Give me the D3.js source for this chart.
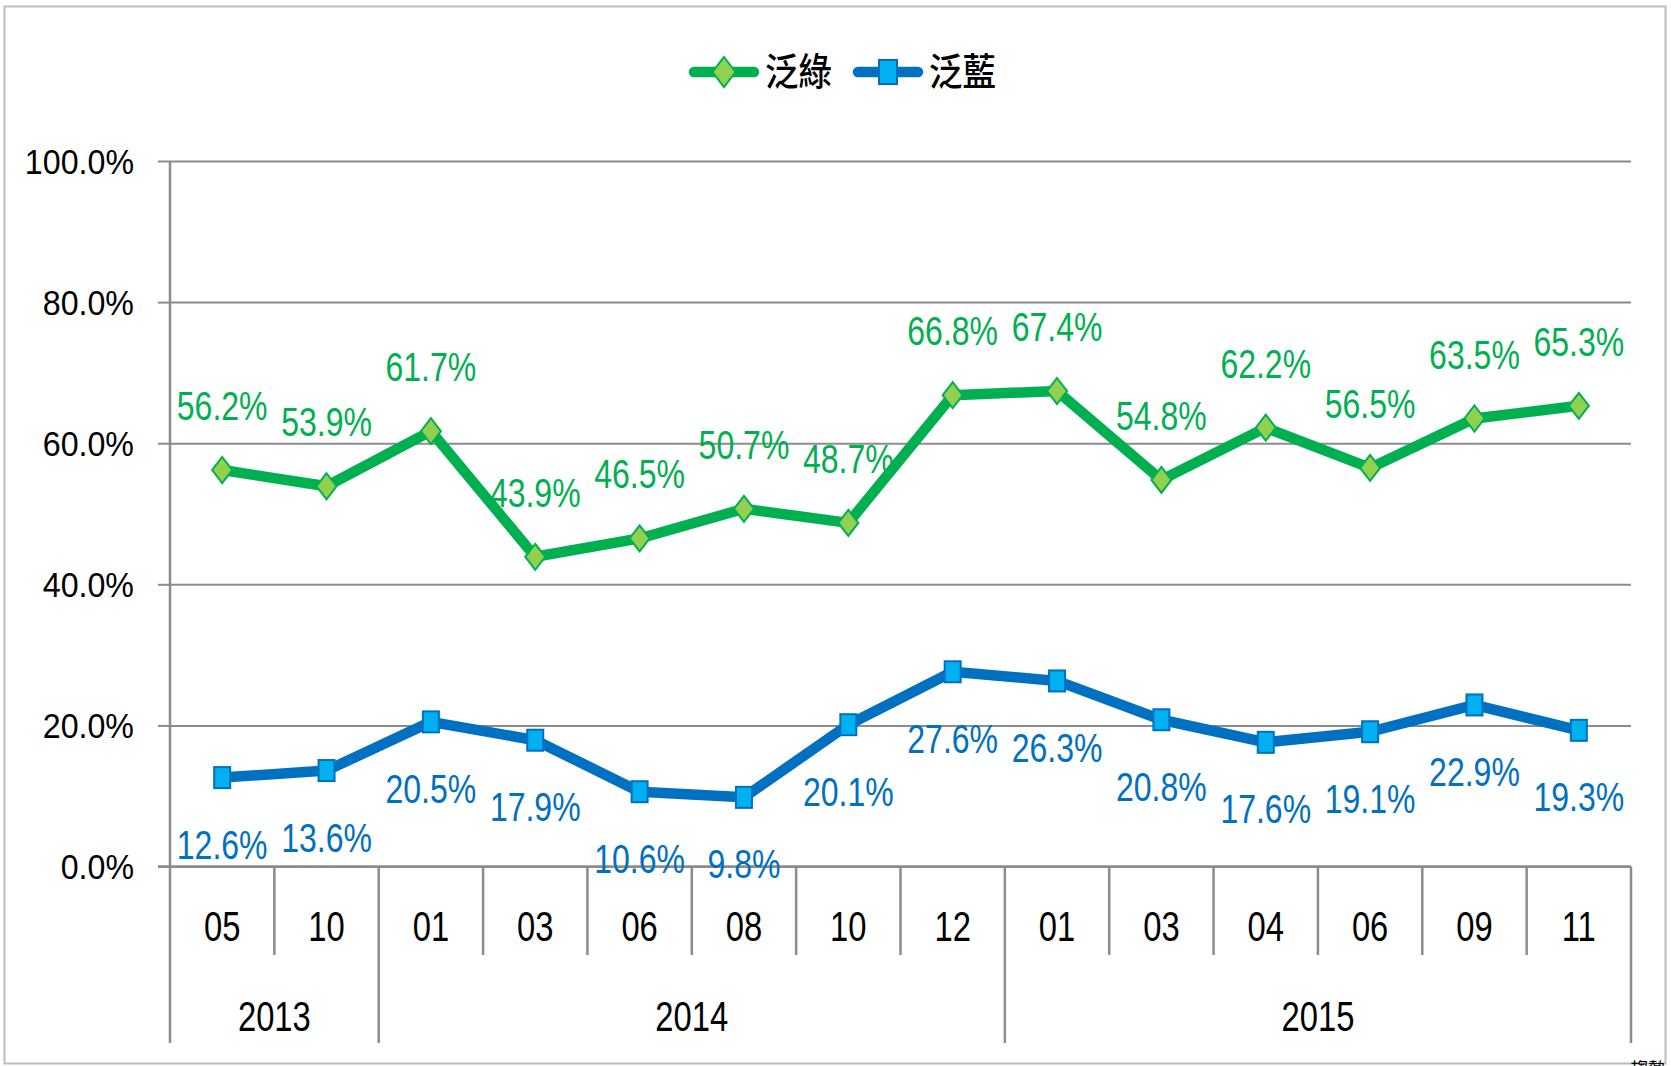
<!DOCTYPE html>
<html>
<head>
<meta charset="utf-8">
<script src="https://cdn.jsdelivr.net/npm/d3@7"></script>
<style>
  body { margin: 0; background: #fff; }
  svg { display: block; font-family: "Liberation Sans", Arial, sans-serif; }
</style>
</head>
<body>
<div id="chart"></div>
<script>
// data
var months = ["05", "10", "01", "03", "06", "08", "10", "12", "01", "03", "04", "06", "09", "11"];
var years = [
  {label: "2013", start: 0, end: 2},
  {label: "2014", start: 2, end: 8},
  {label: "2015", start: 8, end: 14}
];
var green = [56.2, 53.9, 61.7, 43.9, 46.5, 50.7, 48.7, 66.8, 67.4, 54.8, 62.2, 56.5, 63.5, 65.3];
var blue = [12.6, 13.6, 20.5, 17.9, 10.6, 9.8, 20.1, 27.6, 26.3, 20.8, 17.6, 19.1, 22.9, 19.3];
var yTicks = [0, 0.2, 0.4, 0.6, 0.8, 1.0];
var seriesNames = ["泛綠", "泛藍"];

var W = 1671, H = 1066,
    pLeft = 170, pRight = 1631, pTop = 161, pBottom = 866.5;

var svg = d3.select("#chart").append("svg")
    .attr("width", W)
    .attr("height", H);

// outer frame
svg.append("rect")
    .attr("x", 4.5).attr("y", 6.5)
    .attr("width", 1661).attr("height", 1057)
    .attr("fill", "#fff")
    .attr("stroke", "#bdbdbd")
    .attr("stroke-width", 2);

var x = d3.scaleBand()
    .domain(d3.range(months.length))
    .range([pLeft, pRight])
    .padding(0);
var bw = x.bandwidth();
var cx = function(i) { return x(i) + bw / 2; };

var y = d3.scaleLinear()
    .domain([0, 1])
    .range([pBottom, pTop]);

var grey = "#8c8c8c";

// gridlines
svg.append("g")
    .attr("transform", "translate(" + pLeft + ",0)")
    .call(d3.axisLeft(y).tickValues(yTicks).tickSize(-(pRight - pLeft)).tickFormat(""))
    .call(function(g) {
      g.select(".domain").remove();
      g.selectAll("line").attr("stroke", grey).attr("stroke-width", 2);
    });

// y axis with outside ticks
var yAxis = svg.append("g")
    .attr("transform", "translate(" + pLeft + ",0)")
    .call(d3.axisLeft(y).tickValues(yTicks).tickSize(12).tickFormat(d3.format(".1%")));
yAxis.select(".domain").remove();
yAxis.selectAll("line").attr("stroke", grey).attr("stroke-width", 2);
yAxis.selectAll("text")
    .attr("x", null)
    .attr("dy", null)
    .attr("transform", "translate(-36,12) scale(0.92,1)")
    .attr("fill", "#000")
    .style("font-size", "35px")
    .style("font-family", "'Liberation Sans', Arial, sans-serif");

// left axis line runs down through the category area
svg.append("line")
    .attr("x1", pLeft).attr("x2", pLeft)
    .attr("y1", pTop).attr("y2", 1043)
    .attr("stroke", grey).attr("stroke-width", 2.5);

// x axis line
svg.append("line")
    .attr("x1", 158).attr("x2", pRight)
    .attr("y1", pBottom).attr("y2", pBottom)
    .attr("stroke", grey).attr("stroke-width", 2.5);

// category separators
var yearEdges = years.map(function(d) { return d.end; });
svg.append("g").selectAll("line")
    .data(d3.range(1, months.length + 1))
    .join("line")
    .attr("x1", function(i) { return i < months.length ? x(i) : pRight; })
    .attr("x2", function(i) { return i < months.length ? x(i) : pRight; })
    .attr("y1", pBottom)
    .attr("y2", function(i) { return yearEdges.indexOf(i) >= 0 ? 1043 : 955; })
    .attr("stroke", grey).attr("stroke-width", 2.5);

// month labels
svg.append("g").selectAll("text")
    .data(months)
    .join("text")
    .attr("transform", function(d, i) { return "translate(" + cx(i) + ",940.5) scale(0.78,1)"; })
    .attr("text-anchor", "middle")
    .style("font-size", "42px")
    .text(function(d) { return d; });

// year labels
svg.append("g").selectAll("text")
    .data(years)
    .join("text")
    .attr("transform", function(d) {
      return "translate(" + ((x(d.start) + (d.end < months.length ? x(d.end) : pRight)) / 2) + ",1030.5) scale(0.78,1)";
    })
    .attr("text-anchor", "middle")
    .style("font-size", "42px")
    .text(function(d) { return d.label; });

var line = d3.line()
    .x(function(d, i) { return cx(i); })
    .y(function(d) { return y(d / 100); });

var gColor = "#00b050", gFill = "#92d050",
    bColor = "#0070c0", bFill = "#00b0f0";

var diamond = "M0,-13L10,0L0,13L-10,0Z";
var bigDiamond = "M0,-15L11.5,0L0,15L-11.5,0Z";

function drawSeries(vals, color, fill, shape, labelDy) {
  var g = svg.append("g");
  g.append("path")
      .datum(vals)
      .attr("d", line)
      .attr("fill", "none")
      .attr("stroke", color)
      .attr("stroke-width", 10.5)
      .attr("stroke-linejoin", "round");
  var m = g.selectAll(".m")
      .data(vals)
      .join("g")
      .attr("transform", function(d, i) { return "translate(" + cx(i) + "," + y(d / 100) + ")"; });
  if (shape == "diamond") {
    m.append("path").attr("d", diamond)
        .attr("fill", fill).attr("stroke", color).attr("stroke-width", 2);
  } else {
    m.append("rect").attr("x", -8).attr("y", -10.5).attr("width", 16).attr("height", 21)
        .attr("fill", fill).attr("stroke", color).attr("stroke-width", 2);
  }
  g.selectAll(".lab")
      .data(vals)
      .join("text")
      .attr("transform", function(d, i) {
        return "translate(" + cx(i) + "," + (y(d / 100) + labelDy) + ") scale(0.8,1)";
      })
      .attr("text-anchor", "middle")
      .attr("fill", color)
      .style("font-size", "40px")
      .text(function(d) { return d.toFixed(1) + "%"; });
}

drawSeries(green, gColor, gFill, "diamond", -50);
drawSeries(blue, bColor, bFill, "square", 81);

// legend
var legend = [
  {name: seriesNames[0], color: gColor, fill: gFill, shape: "diamond", x0: 689},
  {name: seriesNames[1], color: bColor, fill: bFill, shape: "square", x0: 853}
];
var lg = svg.append("g").selectAll("g")
    .data(legend)
    .join("g")
    .attr("transform", function(d) { return "translate(" + d.x0 + ",72)"; });
lg.append("line")
    .attr("x1", 5).attr("x2", 65)
    .attr("stroke", function(d) { return d.color; })
    .attr("stroke-width", 10.5)
    .attr("stroke-linecap", "round");
lg.each(function(d) {
  var s = d3.select(this);
  if (d.shape == "diamond") {
    s.append("path").attr("d", bigDiamond).attr("transform", "translate(35,0)")
        .attr("fill", d.fill).attr("stroke", d.color).attr("stroke-width", 2);
  } else {
    s.append("rect").attr("x", 26).attr("y", -12).attr("width", 18).attr("height", 24)
        .attr("fill", d.fill).attr("stroke", d.color).attr("stroke-width", 2);
  }
});
lg.append("text")
    .attr("transform", "translate(76,13) scale(0.88,1)")
    .style("font-family", "'Noto Sans CJK TC', sans-serif")
    .style("font-size", "38px")
    .style("font-weight", "500")
    .attr("fill", "#000")
    .text(function(d) { return d.name; });

// clipped note at bottom right
svg.append("text")
    .attr("x", 1630).attr("y", 1076)
    .style("font-family", "'Noto Sans CJK TC', sans-serif")
    .style("font-size", "18px")
    .attr("fill", "#000")
    .text("趨勢");
</script>
</body>
</html>
